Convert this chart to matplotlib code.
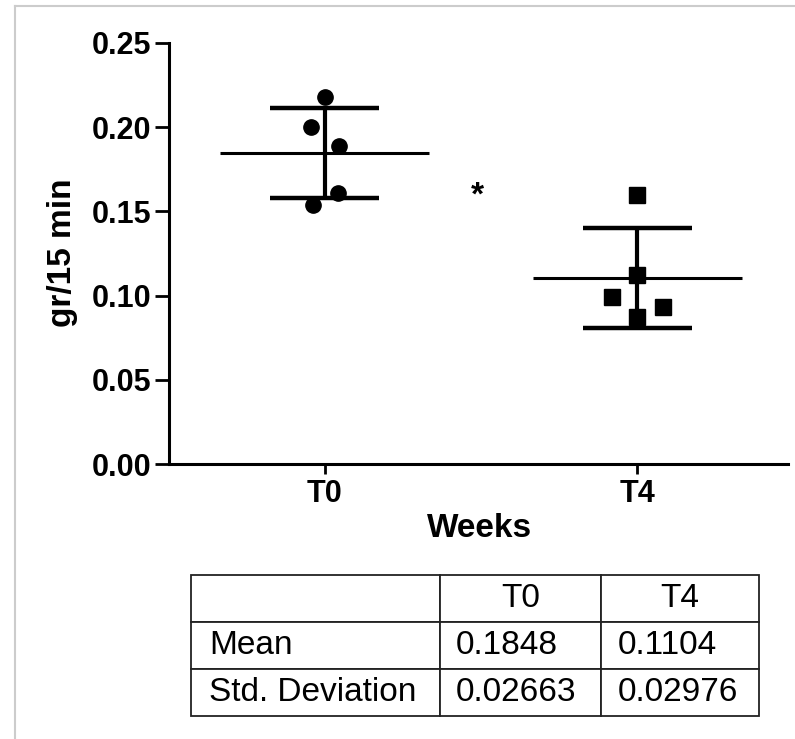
import matplotlib
matplotlib.use('Agg')
import matplotlib.pyplot as plt
from matplotlib.lines import Line2D

plt.rcParams['font.family'] = ['Liberation Sans', 'DejaVu Sans']

# данные
groups = ['T0', 'T4']
t0_values = [0.218, 0.200, 0.189, 0.161, 0.154]
t0_jitter = [0.003, -0.042, 0.045, 0.042, -0.038]
t4_values = [0.160, 0.112, 0.099, 0.093, 0.087]
t4_jitter = [0.0, 0.0, -0.08, 0.083, 0.0]
means = [0.1848, 0.1104]
sds = [0.02663, 0.02976]
mean_txt = ['0.1848', '0.1104']
sd_txt = ['0.02663', '0.02976']
yticks = [0.00, 0.05, 0.10, 0.15, 0.20, 0.25]

W, H = 795, 739
fig = plt.figure(figsize=(W / 100, H / 100), dpi=100)

# серая рамка скриншота
fig.add_artist(Line2D([15 / W, 1], [1 - 6 / H, 1 - 6 / H], color='#cccccc', lw=1.5))
fig.add_artist(Line2D([15 / W, 15 / W], [0, 1 - 6 / H], color='#cccccc', lw=1.5))

ax = fig.add_axes([169 / W, 1 - 464 / H, (788 - 169) / W, (464 - 43) / H])
ax.set_xlim(-0.497, 1.481)
ax.set_ylim(0, 0.25)
for s in ['top', 'right']:
    ax.spines[s].set_visible(False)
for s in ['left', 'bottom']:
    ax.spines[s].set_linewidth(2.2)

# средние и SD
for i, (m, sd) in enumerate(zip(means, sds)):
    ax.hlines(m, i - 0.333, i + 0.333, color='black', lw=2.2, zorder=2)
    ax.vlines(i, m - sd, m + sd, color='black', lw=3, zorder=2)
    ax.hlines([m - sd, m + sd], i - 0.174, i + 0.174, color='black', lw=3.2, zorder=2)

# точки
ax.plot([0 + j for j in t0_jitter], t0_values, 'o', color='black', ms=11, zorder=3)
ax.plot([1 + j for j in t4_jitter], t4_values, 's', color='black', ms=12, zorder=3)

ax.text(0.49, 0.159, '*', ha='center', va='center', fontsize=24, fontweight='bold')

ax.set_yticks(yticks)
ax.set_yticklabels([f'{v:.2f}' for v in yticks], fontsize=22, fontweight='bold')
ax.set_xticks([0, 1])
ax.set_xticklabels(groups, fontsize=22, fontweight='bold')
ax.tick_params(axis='y', length=10, width=2, pad=3, direction='out')
ax.tick_params(axis='x', length=7, width=2, pad=4, direction='out')

fig.text(63 / W, 1 - 253 / H, 'gr/15 min', rotation=90, ha='center', va='center',
         fontsize=24, fontweight='bold')
fig.text(480 / W, 1 - 537 / H, 'Weeks', ha='center', va='baseline',
         fontsize=24, fontweight='bold')

# таблица
tab_ax = fig.add_axes([191 / W, 1 - 716 / H, (759 - 191) / W, (716 - 575) / H])
tab_ax.axis('off')
cells = [['', groups[0], groups[1]],
         ['Mean', mean_txt[0], mean_txt[1]],
         ['Std. Deviation', sd_txt[0], sd_txt[1]]]
col_w = [249, 161, 158]
pads = [0.072, 0.095, 0.107]
tbl = tab_ax.table(cellText=cells, colWidths=[c / sum(col_w) for c in col_w],
                   cellLoc='left', bbox=[0, 0, 1, 1])
tbl.auto_set_font_size(False)
for (r, c), cell in tbl.get_celld().items():
    cell.set_linewidth(1.3)
    cell.set_edgecolor('#222222')
    cell.set_text_props(fontsize=24)
    cell.PAD = pads[c]
    if r == 0:
        cell.get_text().set_ha('center')
        cell._loc = 'center'

fig.savefig('out.png', dpi=100)
